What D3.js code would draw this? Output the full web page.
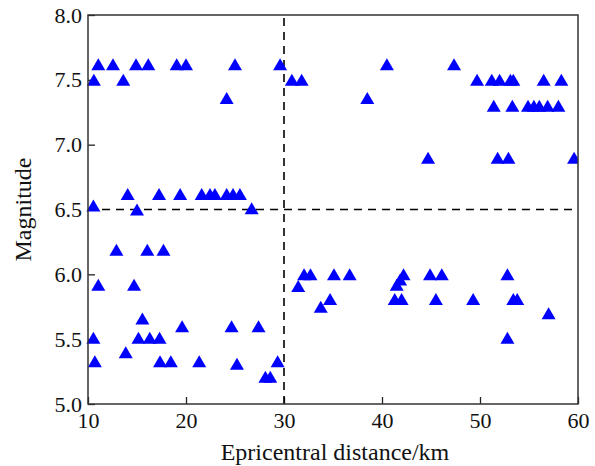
<!DOCTYPE html>
<html lang="en">
<head>
<meta charset="UTF-8">
<title>Magnitude vs epicentral distance</title>
<script src="https://d3js.org/d3.v7.min.js"></script>
<style>
body {
  margin: 0;
  background: white;
}
svg {
  display: block;
}
text {
  font-family: "Liberation Serif", "Times New Roman", serif;
}
</style>
</head>
<body>
<svg></svg>
<script>
// epicentral distance (km) and magnitude for each event
let distance = [
  11.05, 12.55, 14.9, 16.15, 19.05, 20.0, 25.0, 29.6, 40.5, 47.35,
  10.6, 13.6, 30.8, 31.8, 49.7, 51.2, 52.0, 53.1, 53.4, 56.5, 58.3,
  24.15, 38.5,
  51.4, 53.3, 54.9, 55.5, 56.05, 56.9, 58.0,
  44.7, 51.8, 52.9, 59.6,
  14.05, 17.25, 19.4, 21.6, 22.45, 22.95, 24.15, 24.8, 25.5,
  10.55, 15.0, 26.7,
  12.9, 16.05, 17.7,
  11.05, 14.7,
  15.55,
  19.6, 24.65, 27.4,
  10.55, 15.15, 16.3, 17.3,
  13.85,
  10.7, 17.35, 18.45, 21.35, 29.35,
  25.2,
  28.1, 28.6,
  32.05, 32.7, 35.1, 36.7, 42.2, 44.9, 46.1, 52.8,
  31.45, 41.5, 41.85,
  34.7, 41.3, 42.0, 45.5, 49.3, 53.4, 53.8,
  33.75,
  57.0,
  52.8
];
let magnitude = [
  7.62, 7.62, 7.62, 7.62, 7.62, 7.62, 7.62, 7.62, 7.62, 7.62,
  7.5, 7.5, 7.5, 7.5, 7.5, 7.5, 7.5, 7.5, 7.5, 7.5, 7.5,
  7.36, 7.36,
  7.3, 7.3, 7.3, 7.3, 7.3, 7.3, 7.3,
  6.9, 6.9, 6.9, 6.9,
  6.62, 6.62, 6.62, 6.62, 6.62, 6.62, 6.62, 6.62, 6.62,
  6.53, 6.5, 6.51,
  6.19, 6.19, 6.19,
  5.92, 5.92,
  5.66,
  5.6, 5.6, 5.6,
  5.51, 5.51, 5.51, 5.51,
  5.4,
  5.33, 5.33, 5.33, 5.33, 5.33,
  5.31,
  5.21, 5.21,
  6.0, 6.0, 6.0, 6.0, 6.0, 6.0, 6.0, 6.0,
  5.91, 5.92, 5.96,
  5.81, 5.81, 5.81, 5.81, 5.81, 5.81, 5.81,
  5.75,
  5.7,
  5.51
];
let xTicks = [10, 20, 30, 40, 50, 60];
let yTicks = [5.0, 5.5, 6.0, 6.5, 7.0, 7.5, 8.0];
let xThreshold = 30;
let yThreshold = 6.5;

let data = distance.map((d, i) => ({d: d, m: magnitude[i]}));

let width = 595;
let height = 466;
let margin = {left: 88, right: 17, top: 15, bottom: 62};

let svg = d3.select("svg")
  .attr("width", width)
  .attr("height", height);

let x = d3.scaleLinear()
  .domain([10, 60])
  .range([margin.left, width - margin.right]);
let y = d3.scaleLinear()
  .domain([5, 8])
  .range([height - margin.bottom, margin.top]);

// markers are cut only at the right border, like the original
svg.append("clipPath").attr("id", "plot")
  .append("rect")
  .attr("x", x(10) - 8).attr("y", y(8))
  .attr("width", x(60) - x(10) + 8).attr("height", y(5) - y(8));

// inward ticks on left and bottom
let bottom = svg.append("g")
  .attr("transform", "translate(0," + y(5) + ")")
  .call(d3.axisBottom(x).tickValues(xTicks).tickSizeInner(-7).tickSizeOuter(0).tickPadding(8)
    .tickFormat(d3.format("d")));
let left = svg.append("g")
  .attr("transform", "translate(" + x(10) + ",0)")
  .call(d3.axisLeft(y).tickValues(yTicks).tickSizeInner(-7).tickSizeOuter(0).tickPadding(6)
    .tickFormat(d3.format(".1f")));

[bottom, left].forEach(g => {
  g.select(".domain").remove();
  g.selectAll("line").attr("stroke", "#222").attr("stroke-width", 1.3);
  g.selectAll("text")
    .attr("font-family", "Liberation Serif")
    .attr("font-size", 22)
    .attr("fill", "#111");
});

// threshold lines
let graph = svg.append("g").attr("clip-path", "url(#plot)");
graph.append("line")
  .attr("x1", x(xThreshold)).attr("x2", x(xThreshold))
  .attr("y1", y(5)).attr("y2", y(8))
  .attr("stroke", "black").attr("stroke-width", 1.6)
  .attr("stroke-dasharray", "8,6");
graph.append("line")
  .attr("x1", x(10)).attr("x2", x(60))
  .attr("y1", y(yThreshold)).attr("y2", y(yThreshold))
  .attr("stroke", "black").attr("stroke-width", 1.6)
  .attr("stroke-dasharray", "8,6");

// triangle markers
graph.selectAll("path.pt").data(data).enter().append("path")
  .attr("class", "pt")
  .attr("d", "M-7,6L7,6L0,-6Z")
  .attr("transform", p => "translate(" + x(p.d) + "," + y(p.m) + ")")
  .attr("fill", "#0000ff");

// frame
svg.append("rect")
  .attr("x", x(10)).attr("y", y(8))
  .attr("width", x(60) - x(10)).attr("height", y(5) - y(8))
  .attr("fill", "none")
  .attr("stroke", "#333")
  .attr("stroke-width", 1.5);

svg.append("text")
  .attr("x", (x(10) + x(60)) / 2 + 2)
  .attr("y", 460)
  .attr("text-anchor", "middle")
  .attr("font-size", 24)
  .attr("fill", "#111")
  .text("Epricentral distance/km");

svg.append("text")
  .attr("transform", "translate(31," + ((y(5) + y(8)) / 2) + ") rotate(-90)")
  .attr("text-anchor", "middle")
  .attr("font-size", 24)
  .attr("fill", "#111")
  .text("Magnitude");
</script>
</body>
</html>
